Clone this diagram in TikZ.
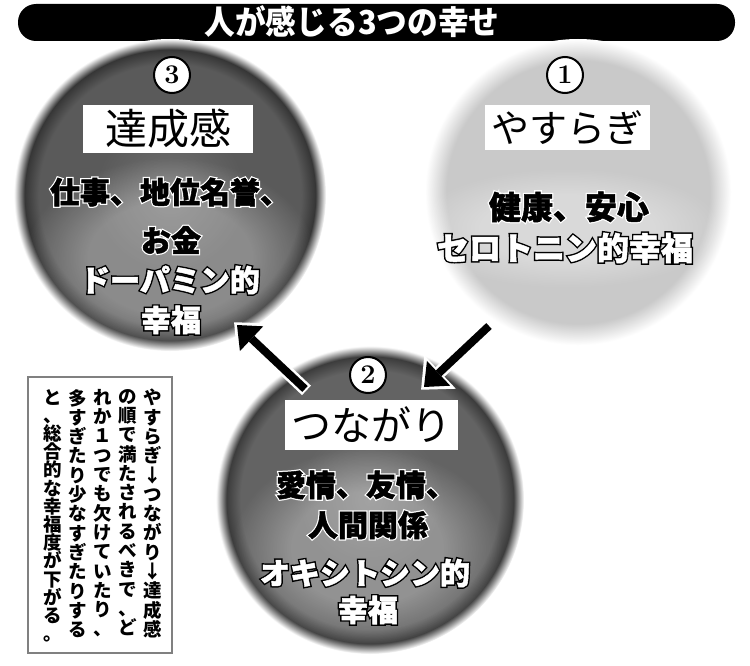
\documentclass[tikz,border=0pt]{standalone}
\usepackage{fontspec}
\usepackage{graphicx}
\usetikzlibrary{arrows.meta,fadings}
\newfontfamily\jp{Noto Sans CJK JP}
\definecolor{cthreein}{HTML}{5A5A5A}
\definecolor{cthreeedge}{HTML}{363636}
\definecolor{ctwoin}{HTML}{636363}
\definecolor{ctwoedge}{HTML}{3C3C3C}
\definecolor{conein}{HTML}{C9C9C9}
\definecolor{noteborder}{HTML}{808080}
\pgfdeclareradialshading{shadethree}{\pgfpoint{0bp}{0bp}}{color(0bp)=(cthreein!85!white); color(12bp)=(cthreein); color(21bp)=(cthreein); color(23.3bp)=(cthreeedge); color(25bp)=(white); color(50bp)=(white)}
\pgfdeclareradialshading{shadetwo}{\pgfpoint{0bp}{0bp}}{color(0bp)=(ctwoin!85!white); color(12bp)=(ctwoin); color(21bp)=(ctwoin); color(23.3bp)=(ctwoedge); color(25bp)=(white); color(50bp)=(white)}
\pgfdeclareradialshading{shadeone}{\pgfpoint{0bp}{0bp}}{color(0bp)=(conein); color(21.5bp)=(conein); color(25bp)=(white); color(50bp)=(white)}
% soft glow behind the text blocks
\pgfdeclareradialshading{glowshading}{\pgfpointorigin}{color(0bp)=(pgftransparent!0); color(14bp)=(pgftransparent!0); color(25bp)=(pgftransparent!100); color(50bp)=(pgftransparent!100)}
\pgfdeclarefading{glowfade}{\pgfuseshading{glowshading}}
% white letters with a black outline / heavy black letters with a white outline
\newcommand\outw[1]{\rlap{\textcolor{black}{\special{pdf:literal direct 2 Tr 3.4 w}#1\special{pdf:literal direct 0 Tr 0.4 w}}}\textcolor{white}{\special{pdf:literal direct 2 Tr 0.5 w}#1\special{pdf:literal direct 0 Tr 0.4 w}}}
\newcommand\outb[1]{\rlap{\textcolor{white}{\special{pdf:literal direct 2 Tr 3 w}#1\special{pdf:literal direct 0 Tr 0.4 w}}}\textcolor{black}{\special{pdf:literal direct 2 Tr 0.5 w}#1\special{pdf:literal direct 0 Tr 0.4 w}}}
\tikzset{
  bigcircle/.style={circle, minimum size=#1, inner sep=0},
  numbadge/.style={circle, draw=black, line width=2pt, fill=white, minimum size=36pt, inner sep=0, font=\bfseries\fontsize{27}{27}\selectfont},
  labelbox/.style={fill=white, inner sep=0, font=\jp\fontsize{40}{40}\selectfont},
  bodyline/.style={inner sep=0, font=\jp\bfseries\fontsize{30}{30}\selectfont},
  bodylinebig/.style={inner sep=0, font=\jp\bfseries\fontsize{32}{32}\selectfont},
  glow/.style={fill=white, fill opacity=0.3, path fading=glowfade},
  arrowhalo/.style={draw=white, line width=13pt, -{Triangle[length=26pt,width=46pt,line width=0pt]}, shorten >=-4pt, shorten <=-2pt},
  arrowbody/.style={draw=black, line width=8pt, -{Triangle[length=20pt,width=34pt,line width=0pt]}},
  notecol/.style={anchor=north, inner sep=0, align=center, font=\jp\bfseries\fontsize{18.5}{19.3}\selectfont},
}
\begin{document}
\begin{tikzpicture}[x=1pt,y=1pt]
\useasboundingbox (0,0) rectangle (750,-666);
\fill[white] (0,0) rectangle (750,-666);
% title banner
\fill[black, rounded corners=18pt] (18,-4) rectangle (735,-41);
\node[inner sep=0, text=white, font=\jp\bfseries\fontsize{33}{33}\selectfont] (title) at (352,-22) {\scalebox{0.93}[1]{人が感じる3つの幸せ}};
% circles
\node[bigcircle=312pt, shade, shading=shadethree] (c3) at (170,-195) {};
\node[bigcircle=306pt, shade, shading=shadeone] (c1) at (578,-192) {};
\node[bigcircle=308pt, shade, shading=shadetwo] (c2) at (370,-500) {};
% glows behind the text blocks
\fill[glow] (170,-258) ellipse (145 and 100);
\fill[glow] (567,-228) ellipse (155 and 60);
\fill[glow] (367,-548) ellipse (135 and 100);
% circle 3
\node[numbadge] (n3) at (172,-75) {3};
\node[labelbox, minimum width=170pt, minimum height=48pt] (l3) at (168,-129) {\fontsize{42}{42}\selectfont 達成感};
\node[bodyline] (t3a) at (170,-192) {\outb{仕事、地位名誉、}};
\node[bodyline] (t3b) at (171,-240) {\outb{お金}};
\node[bodyline] (t3c) at (170,-280) {\outw{ドーパミン的}};
\node[bodyline] (t3d) at (171,-320) {\outw{幸福}};
% circle 1
\node[numbadge] (n1) at (565,-75) {1};
\node[labelbox, minimum width=165pt, minimum height=45pt] (l1) at (567,-128) {\fontsize{38}{38}\selectfont やすらぎ};
\node[bodylinebig] (t1a) at (569,-207) {\outb{健康、安心}};
\node[bodylinebig] (t1b) at (565,-248) {\outw{セロトニン的幸福}};
% circle 2
\node[numbadge] (n2) at (368,-375) {2};
\node[labelbox, minimum width=173pt, minimum height=50pt] (l2) at (371,-425) {つながり};
\node[bodyline] (t2a) at (366,-485) {\outb{愛情、友情、}};
\node[bodyline] (t2b) at (368,-525) {\outb{人間関係}};
\node[bodyline] (t2c) at (365,-573) {\outw{オキシトシン的}};
\node[bodyline] (t2d) at (368,-610) {\outw{幸福}};
% arrows
\coordinate (a1s) at (489,-326);
\coordinate (a1e) at (424,-387);
\coordinate (a2s) at (305,-389);
\coordinate (a2e) at (237,-325);
\draw[arrowhalo] (a1s) -- (a1e);
\draw[arrowbody] (a1s) -- (a1e);
\draw[arrowhalo] (a2s) -- (a2e);
\draw[arrowbody] (a2s) -- (a2e);
% note box
\node[draw=noteborder, line width=1.2pt, fill=white, minimum width=144pt, minimum height=276pt, inner sep=0] (notebox) at (100,-515) {};
\node[notecol] (col1) at (153,-389) {や\\す\\ら\\ぎ\\↓\\つ\\な\\が\\り\\↓\\達\\成\\感};
\node[notecol] (col2) at (128,-389) {の\\順\\で\\満\\た\\さ\\れ\\る\\べ\\き\\で\\、\\ど};
\node[notecol] (col3) at (103,-389) {れ\\か\\１\\つ\\で\\も\\欠\\け\\て\\い\\た\\り\\、};
\node[notecol] (col4) at (78,-389) {多\\す\\ぎ\\た\\り\\少\\な\\す\\ぎ\\た\\り\\す\\る};
\node[notecol, font=\jp\bfseries\fontsize{18.5}{18.2}\selectfont] (col5) at (53,-389) {と\\、\\総\\合\\的\\な\\幸\\福\\度\\が\\下\\が\\る\\。};
\end{tikzpicture}
\end{document}
